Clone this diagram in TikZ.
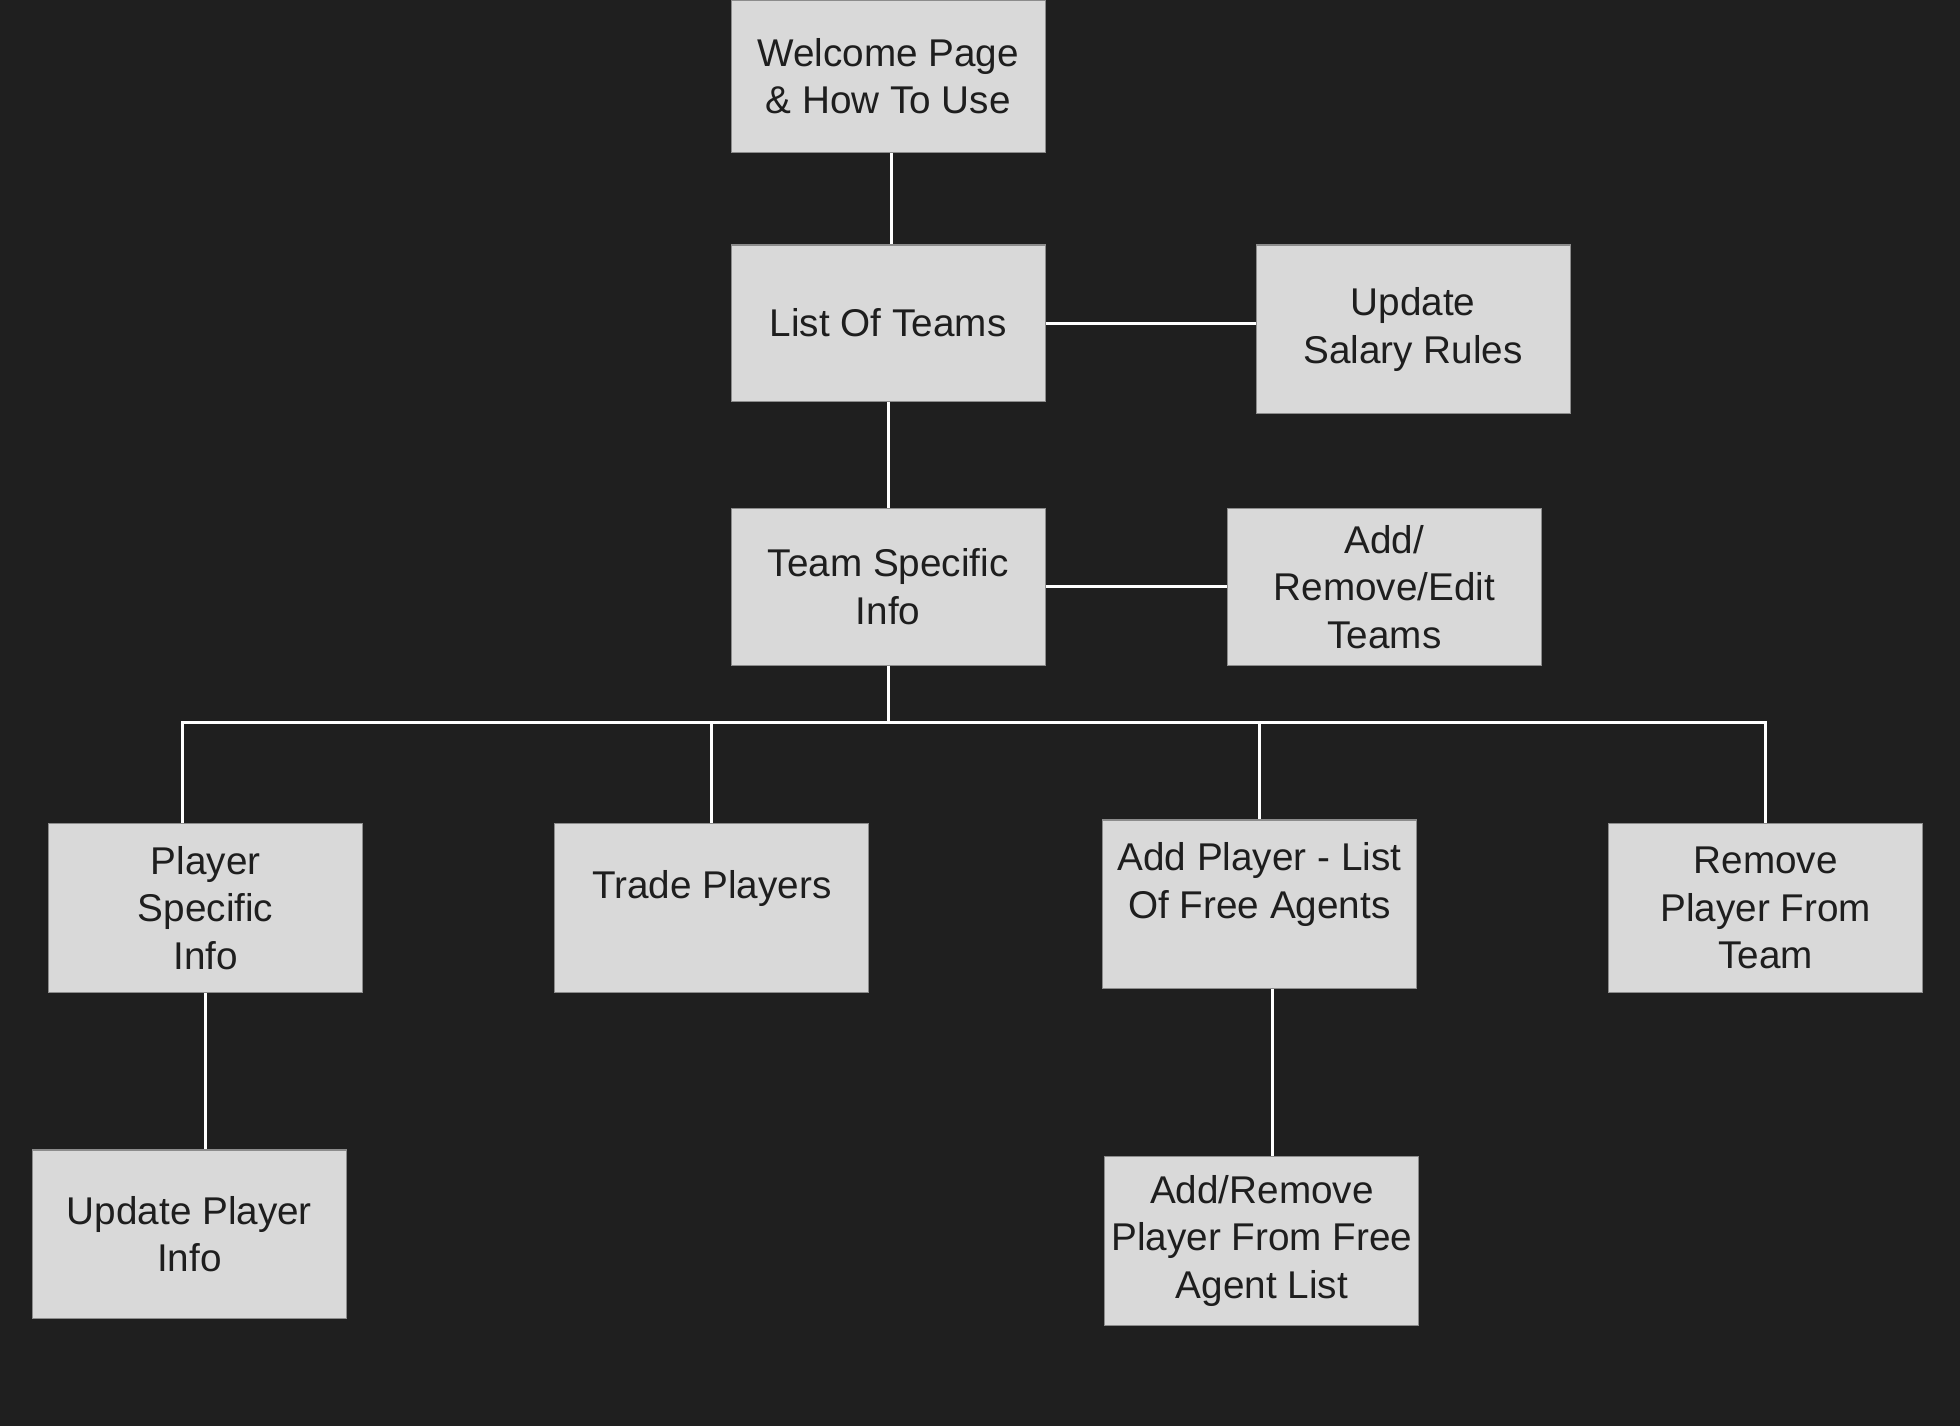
\documentclass[tikz,border=0pt]{standalone}
\usepackage{fontspec}
\setmainfont{Liberation Sans}
\usetikzlibrary{positioning}

\definecolor{bgdark}{HTML}{1F1F1F}
\definecolor{boxgray}{HTML}{D9D9D9}
\definecolor{boxedge}{HTML}{8C8C8C}
\definecolor{inkdark}{HTML}{1E1E1E}

\tikzset{
  page/.style={draw=boxedge, line width=0.25pt, fill=boxgray, text=inkdark,
    minimum width=2.51cm, align=center, inner sep=0pt,
    font=\fontsize{8.8}{10.8}\selectfont},
  link/.style={draw=white, line width=0.7pt}
}

\begin{document}
\begin{tikzpicture}[x=0.01cm, y=-0.01cm]

    \fill[bgdark] (0,0) rectangle (1568,1141);
    \useasboundingbox (0,0) rectangle (1568,1141);

    % top chain
    \node[page, minimum height=1.22cm] (welcome) at (710.5,61) {Welcome Page\\\& How To Use};
    \node[page, minimum height=1.25cm] (teams) at (710.5,258.5) {List Of Teams};
    \node[page, minimum height=1.35cm] (salary) at (1130.5,263.5) {Update\\Salary Rules};
    \node[page, minimum height=1.25cm] (teaminfo) at (710.5,469.5) {Team Specific\\Info};
    \node[page, minimum height=1.25cm] (editteams) at (1107.5,469.5) {Add/\\Remove/Edit\\Teams};

    % player level
    \node[page, minimum height=1.35cm] (playerinfo) at (164.5,726.5) {Player\\Specific\\Info};
    \node[page, minimum height=1.35cm] (trade) at (569.5,726.5) {Trade Players\\~};
    \node[page, minimum height=1.35cm] (agents) at (1007.5,723.5) {Add Player - List\\Of Free Agents\\~};
    \node[page, minimum height=1.35cm] (removeplayer) at (1412.5,726.5) {Remove\\Player From\\Team};

    % bottom level
    \node[page, minimum height=1.35cm] (updateplayer) at (151.5,987.5) {Update Player\\Info};
    \node[page, minimum height=1.35cm] (freelist) at (1009.5,992.5) {Add/Remove\\Player From Free\\Agent List};

    \coordinate (bus) at (710.5,578);

    \draw[link] ([xshift=0.03cm]welcome.south) -- ([xshift=0.03cm]teams.north);
    \draw[link] (teams) -- (teaminfo);
    \draw[link] (teams) -- (teams -| salary.west);
    \draw[link] (teaminfo) -- (teaminfo -| editteams.west);
    \draw[link] (teaminfo.south) -- (bus);

    \draw[link] (bus) -| ([xshift=-0.185cm]playerinfo.north);
    \foreach \kid in {trade, agents, removeplayer}
      \draw[link] (bus) -| (\kid.north);

    \draw[link] (playerinfo.south) -- (playerinfo.south |- updateplayer.north);
    \draw[link] ([xshift=0.105cm]agents.south) -- ([xshift=0.105cm]agents.south |- freelist.north);
\end{tikzpicture}
\end{document}
